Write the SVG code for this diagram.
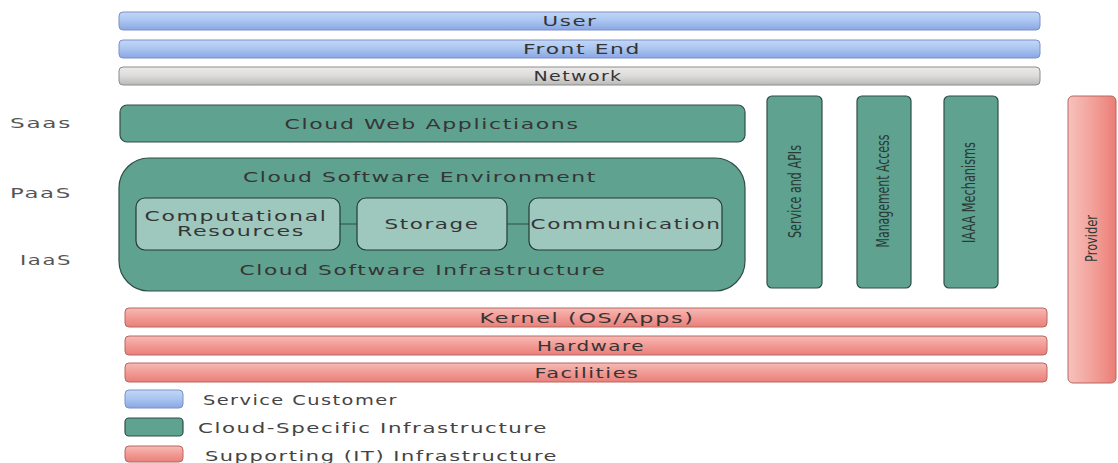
<svg xmlns="http://www.w3.org/2000/svg" width="1118" height="463" viewBox="0 0 1118 463">
<defs>
<linearGradient id="gBlue" x1="0" y1="0" x2="0" y2="1"><stop offset="0" stop-color="#c2d8f7"/><stop offset="0.5" stop-color="#a9c4f0"/><stop offset="1" stop-color="#8aa6e4"/></linearGradient>
<linearGradient id="gGray" x1="0" y1="0" x2="0" y2="1"><stop offset="0" stop-color="#ecebea"/><stop offset="0.5" stop-color="#dcdbd9"/><stop offset="1" stop-color="#b9bab8"/></linearGradient>
<linearGradient id="gRed" x1="0" y1="0" x2="0" y2="1"><stop offset="0" stop-color="#f6bbb6"/><stop offset="0.5" stop-color="#f29a94"/><stop offset="1" stop-color="#e8807a"/></linearGradient>
<linearGradient id="gRedV" x1="0" y1="0" x2="1" y2="0"><stop offset="0" stop-color="#f7c2bd"/><stop offset="0.6" stop-color="#f29b94"/><stop offset="1" stop-color="#ea7d76"/></linearGradient>
</defs>
<style>
.t{font-family:"DejaVu Sans","Liberation Sans",sans-serif;font-size:13.5px;fill:#353535;text-anchor:middle;dominant-baseline:central;letter-spacing:1px}
.v{font-family:"DejaVu Sans",sans-serif;font-size:17px;fill:#2a3a35;text-anchor:middle;dominant-baseline:central}
.lab{font-family:"DejaVu Sans","Liberation Sans",sans-serif;font-size:13.5px;fill:#555;text-anchor:middle;dominant-baseline:central;letter-spacing:1px}
.leg{font-family:"DejaVu Sans","Liberation Sans",sans-serif;font-size:13.5px;fill:#444;dominant-baseline:central;letter-spacing:1px}
.blue{fill:url(#gBlue);stroke:#7d90c8;stroke-width:1}
.gray{fill:url(#gGray);stroke:#8c8c8c;stroke-width:1}
.red{fill:url(#gRed);stroke:#b86660;stroke-width:1}
.teal{fill:#60a290;stroke:#2f4f47;stroke-width:1.2}
.inner{fill:#9ec8bd;stroke:#243a34;stroke-width:1.2}
</style>
<g id="labels">
<text class="lab" x="41" y="123" textLength="62" lengthAdjust="spacingAndGlyphs">Saas</text>
<text class="lab" x="41" y="193" textLength="62" lengthAdjust="spacingAndGlyphs">PaaS</text>
<text class="lab" x="46" y="260" textLength="52" lengthAdjust="spacingAndGlyphs">IaaS</text>
</g>
<g id="user"><rect class="blue" x="119" y="12" width="921" height="18" rx="4"/><text class="t" x="570" y="21" textLength="55" lengthAdjust="spacingAndGlyphs">User</text></g>
<g id="frontend"><rect class="blue" x="119" y="40" width="921" height="18" rx="4"/><text class="t" x="582" y="49" textLength="118" lengthAdjust="spacingAndGlyphs">Front End</text></g>
<g id="network"><rect class="gray" x="119" y="67" width="921" height="18" rx="4"/><text class="t" x="578" y="76" textLength="89" lengthAdjust="spacingAndGlyphs">Network</text></g>
<g id="cloudweb"><rect class="teal" x="120" y="105" width="625" height="37" rx="7"/><text class="t" x="432" y="124" textLength="295" lengthAdjust="spacingAndGlyphs">Cloud Web Applictiaons</text></g>
<g id="cloudsoftware">
<rect class="teal" x="119" y="158" width="626" height="133" rx="30"/>
<text class="t" x="420" y="177" textLength="354" lengthAdjust="spacingAndGlyphs">Cloud Software Environment</text>
<text class="t" x="423" y="270" textLength="367" lengthAdjust="spacingAndGlyphs">Cloud Software Infrastructure</text>
</g>
<g id="connectors">
<line x1="340" y1="224" x2="357" y2="224" stroke="#3c6a5e" stroke-width="1.5"/>
<line x1="507" y1="224" x2="529" y2="224" stroke="#3c6a5e" stroke-width="1.5"/>
</g>
<g id="computational"><rect class="inner" x="136" y="198" width="204" height="52" rx="9"/><text class="t" x="236" y="216" textLength="183" lengthAdjust="spacingAndGlyphs">Computational</text><text class="t" x="241" y="231" textLength="128" lengthAdjust="spacingAndGlyphs">Resources</text></g>
<g id="storage"><rect class="inner" x="357" y="198" width="150" height="52" rx="9"/><text class="t" x="432" y="224" textLength="95" lengthAdjust="spacingAndGlyphs">Storage</text></g>
<g id="communication"><rect class="inner" x="529" y="198" width="193" height="52" rx="9"/><text class="t" x="626" y="224" textLength="191" lengthAdjust="spacingAndGlyphs">Communication</text></g>
<g id="serviceapis"><rect class="teal" x="767" y="96" width="55" height="192" rx="5"/><text class="v" transform="translate(795 191.5) rotate(-90)" textLength="93" lengthAdjust="spacingAndGlyphs">Service and APIs</text></g>
<g id="management"><rect class="teal" x="857" y="96" width="54" height="192" rx="5"/><text class="v" transform="translate(883 191) rotate(-90)" textLength="113" lengthAdjust="spacingAndGlyphs">Management Access</text></g>
<g id="iaaa"><rect class="teal" x="944" y="96" width="54" height="192" rx="5"/><text class="v" transform="translate(969 192.5) rotate(-90)" textLength="101" lengthAdjust="spacingAndGlyphs">IAAA Mechanisms</text></g>
<g id="provider"><rect x="1068" y="96" width="48" height="287" rx="5" fill="url(#gRedV)" stroke="#b86660" stroke-width="1"/><text class="v" style="font-size:16px" transform="translate(1091 238.5) rotate(-90)" textLength="47" lengthAdjust="spacingAndGlyphs">Provider</text></g>
<g id="kernel"><rect class="red" x="125" y="308" width="922" height="19" rx="4"/><text class="t" x="587" y="317.5" textLength="215" lengthAdjust="spacingAndGlyphs">Kernel (OS/Apps)</text></g>
<g id="hardware"><rect class="red" x="125" y="336" width="922" height="19" rx="4"/><text class="t" x="591" y="345.5" textLength="108" lengthAdjust="spacingAndGlyphs">Hardware</text></g>
<g id="facilities"><rect class="red" x="125" y="363" width="922" height="19" rx="4"/><text class="t" x="587" y="372.5" textLength="105" lengthAdjust="spacingAndGlyphs">Facilities</text></g>
<g id="legend">
<rect class="blue" x="125" y="390" width="58" height="18" rx="4"/><text class="leg" x="203" y="400" textLength="195" lengthAdjust="spacingAndGlyphs">Service Customer</text>
<rect class="teal" x="125" y="418" width="58" height="18" rx="4"/><text class="leg" x="198" y="428" textLength="350" lengthAdjust="spacingAndGlyphs">Cloud-Specific Infrastructure</text>
<rect class="red" x="125" y="446" width="58" height="16" rx="4"/><text class="leg" x="205" y="456" textLength="353" lengthAdjust="spacingAndGlyphs">Supporting (IT) Infrastructure</text>
</g>
</svg>
